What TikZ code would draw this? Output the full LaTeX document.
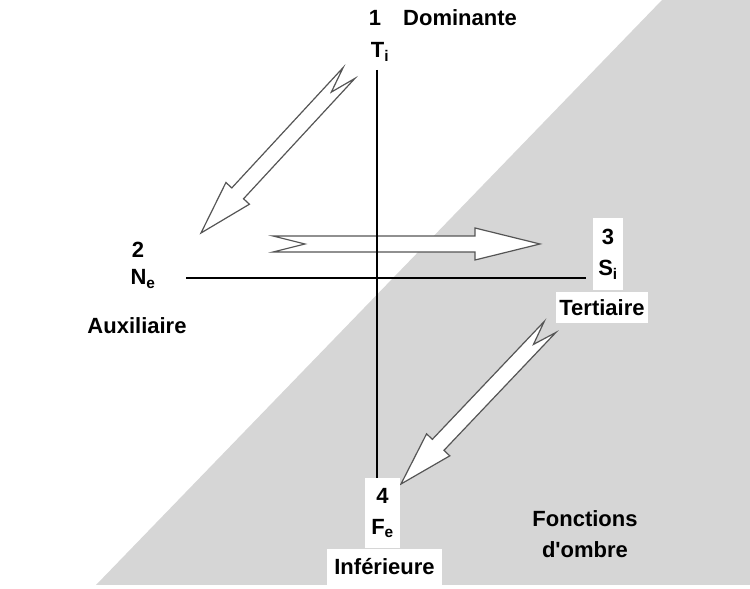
\documentclass[tikz,border=0pt]{standalone}
\usepackage{fontspec}
\setmainfont{Liberation Sans}
\usetikzlibrary{calc}

\definecolor{gris}{RGB}{214,214,214}
\definecolor{contour}{RGB}{85,85,85}

\tikzset{
  etiquette/.style={font=\fontsize{22}{31}\selectfont\bfseries, inner sep=0pt, align=center},
  boite/.style={fill=white},
  axe/.style={line width=2.8pt, black},
  fleche/.style={fill=white, draw=contour, line width=1.2pt, line join=miter}
}

% block arrow with a notched tail: tail, tip, head length, notch depth
\newcommand\flechebloc[4]{%
  \draw[fleche] let \p1=(#1), \p2=(#2), \n1={atan2(\y2-\y1,\x2-\x1)} in
    ($(#1)+(\n1+90:8)$) -- ($(#2)+(\n1+180:#3)+(\n1+90:8)$)
    -- ($(#2)+(\n1+180:#3)+(\n1+90:16)$) -- (#2)
    -- ($(#2)+(\n1+180:#3)+(\n1-90:16)$) -- ($(#2)+(\n1+180:#3)+(\n1-90:8)$)
    -- ($(#1)+(\n1-90:8)$) -- ($(#1)+(\n1:#4)$) -- cycle;}

\begin{document}
\begin{tikzpicture}[x=1pt, y=1pt]
  \useasboundingbox (0,0) rectangle (750,589);

  % shadow half of the picture
  \fill[gris] (662,589) -- (750,589) -- (750,4) -- (96,4) -- cycle;

  % ends of the arrows
  \coordinate (queue1) at (349,516);
  \coordinate (pointe1) at (201,356);
  \coordinate (queue2) at (273,345);
  \coordinate (pointe2) at (540,345);
  \coordinate (queue3) at (550,262);
  \coordinate (pointe3) at (401,105);

  \flechebloc{queue1}{pointe1}{54}{26}
  \flechebloc{queue2}{pointe2}{65}{32}
  \flechebloc{queue3}{pointe3}{54}{24}

  % the two axes
  \coordinate (haut) at (377,519);
  \coordinate (bas) at (377,111);
  \coordinate (gauche) at (186,311);
  \coordinate (droite) at (586,311);
  \draw[axe] (haut) -- (bas);
  \draw[axe] (gauche) -- (droite);

  % labels
  \node[etiquette] (un) at (375,571) {1};
  \node[etiquette, anchor=west] (dominante) at (403,571) {Dominante};
  \node[etiquette] (ti) at (380,537) {T\textsubscript{i}};

  \node[etiquette] (deux) at (138,339) {2};
  \node[etiquette] (ne) at (143,310) {N\textsubscript{e}};
  \node[etiquette] (auxiliaire) at (137,263) {Auxiliaire};

  \node[etiquette, boite, minimum width=30pt, minimum height=72pt] (trois) at (608,335) {3\\S\textsubscript{i}};
  \node[etiquette, boite, minimum width=92pt, minimum height=31pt] (tertiaire) at (602,281.5) {Tertiaire};

  \node[etiquette, boite, minimum width=35pt, minimum height=70pt] (quatre) at (382.5,76) {4\\F\textsubscript{e}};
  \node[etiquette, boite, minimum width=115pt, minimum height=36pt] (inferieure) at (384.5,22) {Inférieure};

  \node[etiquette] (ombre) at (585,55) {Fonctions\\d\textquotesingle ombre};
\end{tikzpicture}
\end{document}
